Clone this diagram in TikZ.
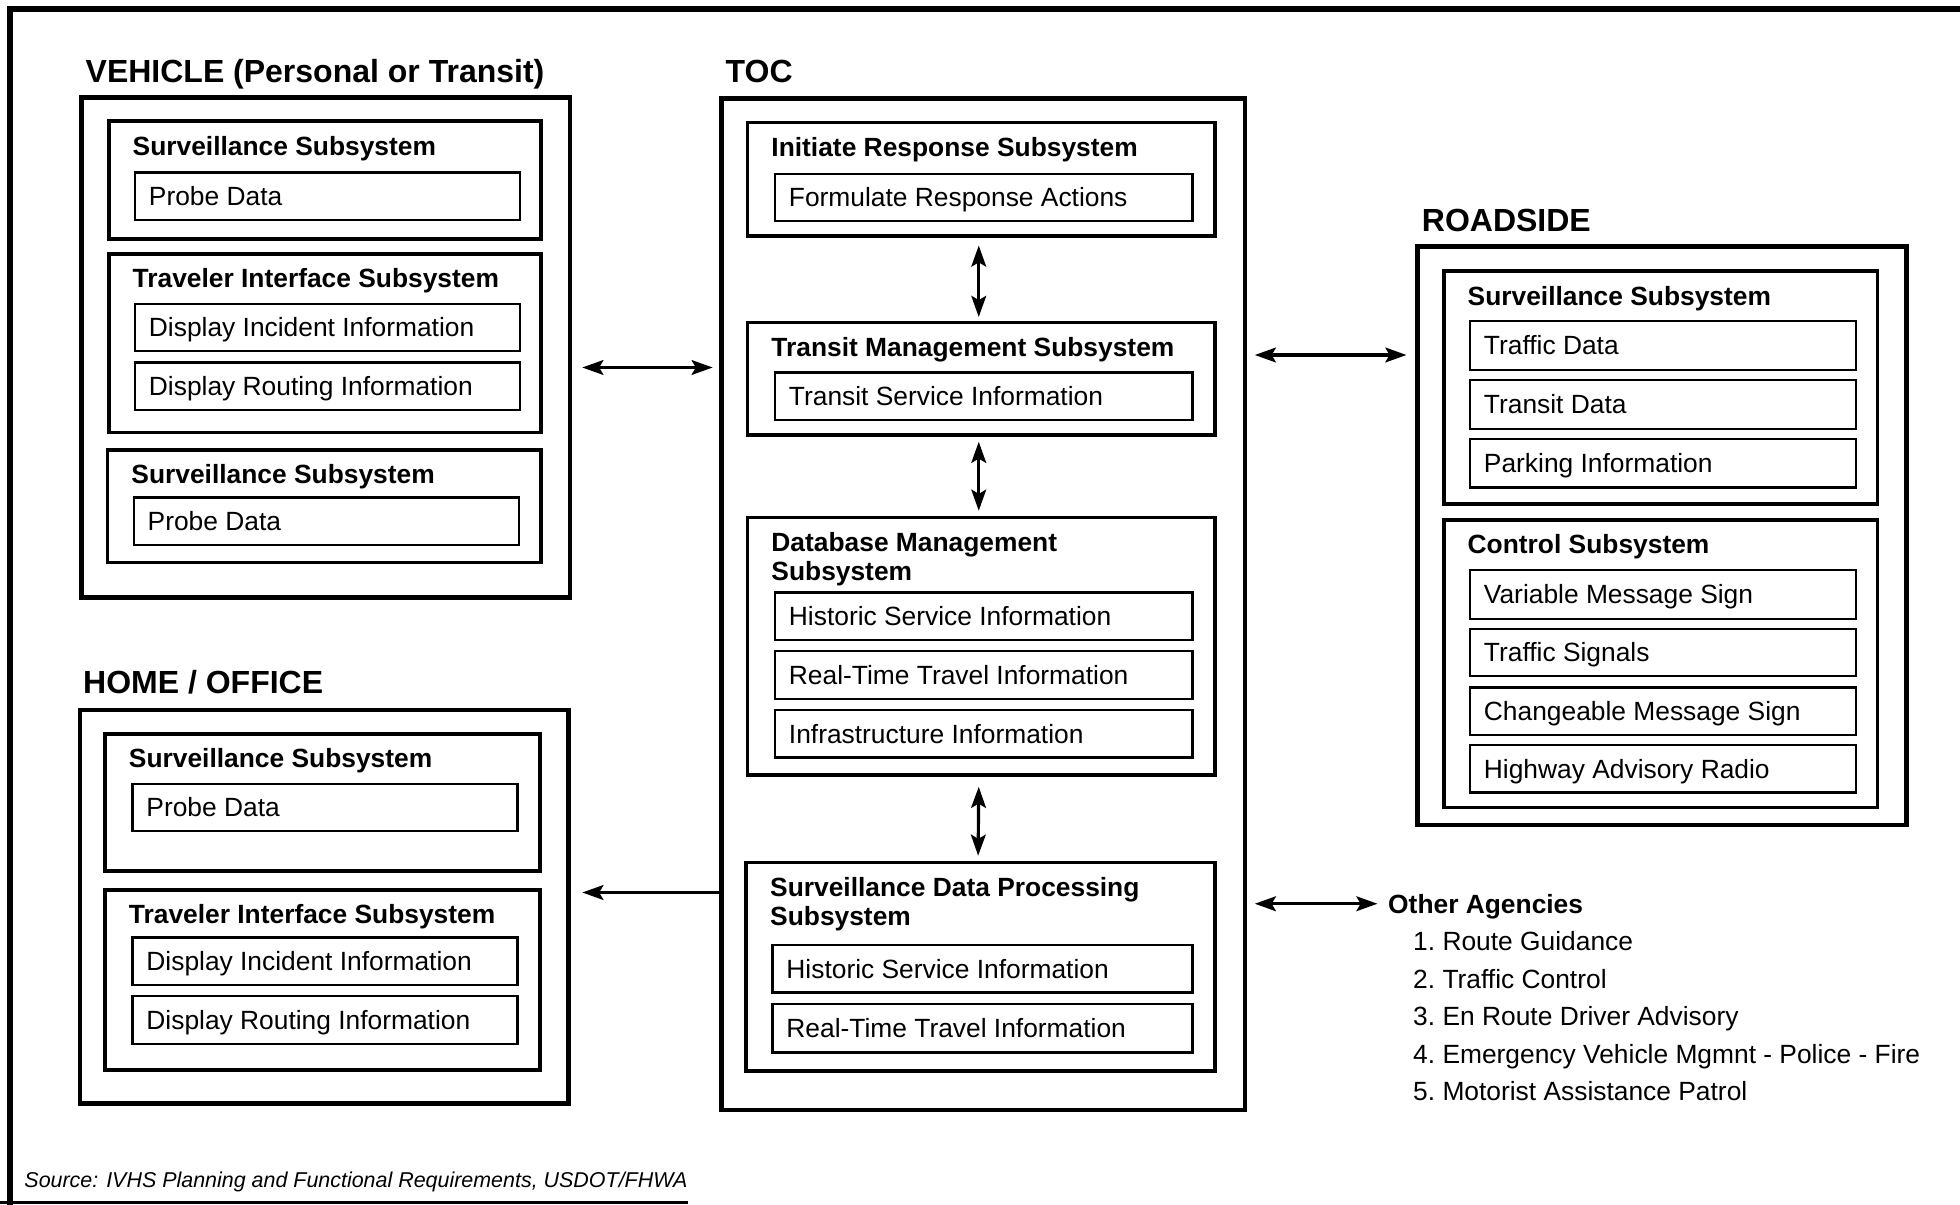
\documentclass[tikz,border=0pt]{standalone}
\usepackage{fontspec}
\setmainfont{Liberation Sans}
\usetikzlibrary{calc,fit,arrows.meta}
\tikzset{
  outer/.style={draw, line width=1.3pt, inner sep=0pt},
  subsys/.style={draw, line width=1pt, inner sep=0pt},
  item/.style={draw, line width=0.65pt, inner sep=0pt},
  txt/.style={inner sep=0pt, anchor=west, text height=5.3pt, text depth=0pt, font=\fontsize{7.5}{9}\selectfont},
  lbl/.style={txt, font=\bfseries\fontsize{7.5}{9}\selectfont},
  ttl/.style={txt, text height=6.5pt, font=\bfseries\fontsize{9.1}{11}\selectfont},
  src/.style={txt, text height=4.4pt, font=\itshape\fontsize{6.1}{7}\selectfont},
  tip/.style={Stealth[length=6pt,width=4.2pt,inset=1.2pt]},
  link/.style={line width=0.9pt, {Stealth[length=6pt,width=4.2pt,inset=1.2pt]}-{Stealth[length=6pt,width=4.2pt,inset=1.2pt]}},
  oneway/.style={line width=0.9pt, -{Stealth[length=6pt,width=4.2pt,inset=1.2pt]}},
}
\newcommand{\subbox}[4]{\node[subsys, fit={#2 #3}] (#1) {};
  \node[lbl] (#1-l) at ($(#1.north west)+(20,21)$) {#4};}
\newcommand{\itembox}[4]{\node[item, fit={#2 #3}] (#1) {};
  \node[txt] (#1-t) at ($(#1.west)+(11.5,0)$) {#4};}

\begin{document}
\begin{tikzpicture}[x=0.0125cm, y=-0.0125cm]
  \useasboundingbox (0,0) rectangle (1568,964);
  %%%%% FRAME %%%%%
  \draw[line width=1.7pt] (8,964) -- (8,7) -- (1568,7);
  \draw[line width=1pt] (0,962) -- (550,962);

  %%%%% VEHICLE %%%%%
  \node[outer, fit={(65,78) (456,478)}] (veh) {};
  \node[ttl] (veh-h) at (68,57) {VEHICLE (Personal or Transit)};
  \subbox{vs1}{(87,97)}{(433,191)}{Surveillance Subsystem}
  \itembox{vs1-a}{(108,138)}{(416,176)}{Probe Data}
  \subbox{vti}{(87,203)}{(433,346)}{Traveler Interface Subsystem}
  \itembox{vti-a}{(108,243)}{(416,281)}{Display Incident Information}
  \itembox{vti-b}{(108,290)}{(416,328)}{Display Routing Information}
  \subbox{vs2}{(86,360)}{(433,450)}{Surveillance Subsystem}
  \itembox{vs2-a}{(107,398)}{(415,436)}{Probe Data}

  %%%%% HOME / OFFICE %%%%%
  \node[outer, fit={(64,568) (455,883)}] (home) {};
  \node[ttl] (home-h) at (66,546) {HOME / OFFICE};
  \subbox{hs}{(84,587)}{(432,697)}{Surveillance Subsystem}
  \itembox{hs-a}{(106,627)}{(414,665)}{Probe Data}
  \subbox{hti}{(84,712)}{(432,856)}{Traveler Interface Subsystem}
  \itembox{hti-a}{(106,750)}{(414,788)}{Display Incident Information}
  \itembox{hti-b}{(106,797)}{(414,835)}{Display Routing Information}

  %%%%% TOC %%%%%
  \node[outer, fit={(577,79) (996,888)}] (toc) {};
  \node[ttl] (toc-h) at (580,57) {TOC};
  \subbox{irs}{(598,98)}{(972,189)}{Initiate Response Subsystem}
  \itembox{irs-a}{(620,139)}{(954,177)}{Formulate Response Actions}
  \subbox{tms}{(598,258)}{(972,348)}{Transit Management Subsystem}
  \itembox{tms-a}{(620,298)}{(954,336)}{Transit Service Information}
  \subbox{dbm}{(598,414)}{(972,620)}{Database Management}
  \node[lbl] (dbm-l2) at ($(dbm-l.west)+(0,23)$) {Subsystem};
  \itembox{dbm-a}{(620,474)}{(954,512)}{Historic Service Information}
  \itembox{dbm-b}{(620,521)}{(954,559)}{Real-Time Travel Information}
  \itembox{dbm-c}{(620,568)}{(954,606)}{Infrastructure Information}
  \subbox{sdp}{(597,690)}{(972,857)}{Surveillance Data Processing}
  \node[lbl] (sdp-l2) at ($(sdp-l.west)+(0,23)$) {Subsystem};
  \itembox{sdp-a}{(618,756)}{(954,794)}{Historic Service Information}
  \itembox{sdp-b}{(618,803)}{(954,842)}{Real-Time Travel Information}

  %%%%% ROADSIDE %%%%%
  \node[outer, fit={(1134,197) (1525,660)}] (road) {};
  \node[ttl] (road-h) at (1137,176) {ROADSIDE};
  \subbox{rs}{(1155,217)}{(1502,403)}{Surveillance Subsystem}
  \itembox{rs-a}{(1176,257)}{(1485,296)}{Traffic Data}
  \itembox{rs-b}{(1176,304)}{(1485,343)}{Transit Data}
  \itembox{rs-c}{(1176,351)}{(1485,390)}{Parking Information}
  \subbox{rc}{(1155,416)}{(1502,646)}{Control Subsystem}
  \itembox{rc-a}{(1176,456)}{(1485,495)}{Variable Message Sign}
  \itembox{rc-b}{(1176,503)}{(1485,541)}{Traffic Signals}
  \itembox{rc-c}{(1176,550)}{(1485,588)}{Changeable Message Sign}
  \itembox{rc-d}{(1176,596)}{(1485,634)}{Highway Advisory Radio}

  %%%%% OTHER AGENCIES %%%%%
  \node[lbl] (oa) at (1110,723) {Other Agencies};
  \foreach \n/\t in {1/Route Guidance, 2/Traffic Control, 3/En Route Driver Advisory,
      4/Emergency Vehicle Mgmnt - Police - Fire, 5/Motorist Assistance Patrol}
    \node[txt] (oa-\n) at (1130,723+30*\n) {\n.\ \t};

  \node[src] (src) at (19,944) {Source: IVHS Planning and Functional Requirements, USDOT/FHWA};

  %%%%% LINKS %%%%%
  \draw[link] ($(veh.east |- 0,294)+(8,0)$) -- ($(toc.west |- 0,294)+(-5,0)$);
  \draw[oneway] (toc.west |- 0,714) -- ($(home.east |- 0,714)+(9,0)$);
  \draw[link] ($(toc.east |- 0,284)+(6,0)$) -- ($(road.west |- 0,284)+(-7,0)$);
  \draw[link] ($(toc.east |- oa.west)+(6,0)$) -- ($(oa.west)+(-8,0)$);
  \draw[link] ($(irs.south)+(-2,6)$) -- ($(tms.north)+(-2,-3)$);
  \draw[link] ($(tms.south)+(-2,4)$) -- ($(dbm.north)+(-2,-4)$);
  \draw[link] ($(dbm.south)+(-2,8)$) -- ($(sdp.north)+(-2,-4)$);
\end{tikzpicture}
\end{document}
